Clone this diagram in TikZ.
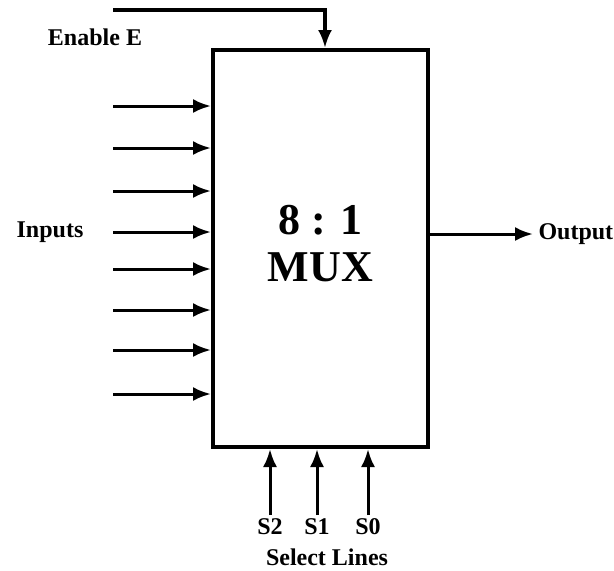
\documentclass[tikz,border=0pt]{standalone}
\usepackage{fontspec}
\setmainfont{Liberation Serif}
\usetikzlibrary{positioning, calc, arrows.meta}

\begin{document}
\begin{tikzpicture}[
  x=1pt, y=-1pt,
  line width=3pt,
  arr/.style = {-{Latex[length=18pt, width=14pt]}},
  mux/.style = {draw, line width=4pt, minimum width=215pt, minimum height=397pt, inner sep=0pt},
  big/.style = {align=center, inner sep=0pt, font=\bfseries\fontsize{44}{47}\selectfont},
  lbl/.style = {font=\bfseries\fontsize{24}{26}\selectfont, inner sep=0pt},
]
  \useasboundingbox (0,0) rectangle (614,571);

  \node[mux] (M) at (320.5,248.5) {};
  \node[big] (title) at ([yshift=5pt]M.center) {8 : 1\\MUX};

  % data inputs
  \foreach \y [count=\i] in {106,148,191,232,269,310,350,394} {
    \coordinate (in\i) at (113,\y);
    \draw[arr] (in\i) -- (in\i -| M.west);
  }
  \node[lbl] (inputs) at (50,232) {Inputs};

  % enable
  \coordinate (en) at (113,10);
  \draw[arr, line width=3.4pt] (en) -| ([xshift=4.5pt]M.north);
  \node[lbl] (enable) at (95,37) {Enable E};

  % output
  \coordinate (out) at (533,234);
  \draw[arr] (M.east |- out) -- (out);
  \node[lbl, right=4pt of out] (outlbl) {Output};

  % select lines
  \coordinate (s2) at (270,515);
  \coordinate (s1) at (317,515);
  \coordinate (s0) at (368,515);
  \draw[arr] (s2) -- (s2 |- M.south);
  \draw[arr] (s1) -- (s1 |- M.south);
  \draw[arr] (s0) -- (s0 |- M.south);
  \node[lbl, below=2pt of s2] (s2lbl) {S2};
  \node[lbl, below=2pt of s1] (s1lbl) {S1};
  \node[lbl, below=2pt of s0] (s0lbl) {S0};
  \node[lbl] (select) at (327,557) {Select Lines};
\end{tikzpicture}
\end{document}
